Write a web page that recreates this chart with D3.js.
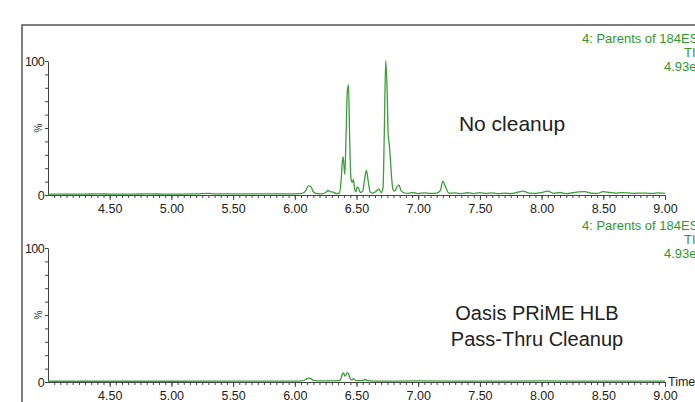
<!DOCTYPE html>
<html>
<head>
<meta charset="utf-8">
<script src="https://cdn.jsdelivr.net/npm/d3@7/dist/d3.min.js"></script>
<style>
  body { margin: 0; background: #fff; }
  svg { display: block; font-family: "Liberation Sans", Arial, sans-serif; }
</style>
</head>
<body>
<svg id="chart" width="695" height="402"></svg>
<script>
/** retention time range and tick labels **/
var timeRange = [4.0, 9.0];
var majorTicks = [4.5, 5.0, 5.5, 6.0, 6.5, 7.0, 7.5, 8.0, 8.5, 9.0];
var pctTicks = [0, 100];

/** header text of each trace **/
var traceInfo = ["4: Parents of 184ES+", "TIC", "4.93e7"];
var panelTitles = [["No cleanup"], ["Oasis PRiME HLB", "Pass-Thru Cleanup"]];

/** [time, %] **/
var noCleanup = [
  [4.00,0.3],[4.20,0.3],[4.40,0.4],[4.60,0.3],[4.80,0.4],[5.00,0.3],[5.20,0.4],[5.30,0.9],[5.35,0.5],
  [5.40,0.4],[5.60,0.4],[5.80,0.5],[6.00,0.5],[6.06,0.8],[6.09,3],[6.11,6.5],[6.13,6],[6.15,2],
  [6.18,0.6],[6.22,0.5],[6.25,1.5],[6.27,3],[6.29,2],[6.31,1.8],[6.34,0.6],[6.36,1],[6.375,10],
  [6.385,24],[6.392,28],[6.405,15],[6.415,42],[6.425,76],[6.435,82],[6.445,40],[6.455,12],[6.465,9],
  [6.475,11],[6.485,4],[6.495,2],[6.505,5.5],[6.515,5],[6.53,1.5],[6.55,2.5],[6.565,11],[6.58,18],
  [6.595,10],[6.61,2],[6.63,1],[6.66,2.5],[6.68,4],[6.70,1.5],[6.715,5],[6.725,45],[6.737,100],
  [6.748,78],[6.757,44],[6.765,38],[6.775,26],[6.785,12],[6.795,4],[6.81,2.5],[6.83,6],[6.845,7],
  [6.86,3],[6.88,1.5],[6.92,0.8],[6.96,1.5],[7.00,0.7],[7.05,1.2],[7.10,0.8],[7.15,1],[7.18,3],
  [7.20,10],[7.22,6],[7.25,1],[7.30,1.2],[7.35,0.6],[7.40,1.3],[7.45,0.7],[7.50,1.4],[7.55,0.8],
  [7.60,1.2],[7.65,0.6],[7.70,1],[7.75,0.7],[7.80,1.5],[7.85,2.5],[7.90,1],[7.95,0.8],[8.00,1.4],
  [8.05,2.5],[8.10,0.8],[8.15,1.5],[8.20,0.7],[8.25,1.3],[8.30,2],[8.35,2.2],[8.40,1],[8.45,0.8],
  [8.50,2.2],[8.55,1.5],[8.60,1],[8.65,1.4],[8.70,1.2],[8.75,0.9],[8.80,1.1],[8.85,1],[8.90,0.8],
  [8.95,1.2],[9.00,0.9]
];

var passThru = [
  [4.00,0.2],[5.00,0.2],[6.00,0.3],[6.06,0.5],[6.09,1.5],[6.11,2.5],[6.13,2.2],[6.15,0.8],[6.20,0.4],
  [6.30,0.5],[6.36,0.6],[6.375,2.5],[6.385,5.5],[6.395,6.5],[6.405,4],[6.415,5],[6.425,6.5],[6.435,6],
  [6.445,3],[6.455,1.5],[6.465,1.2],[6.475,2.2],[6.485,1.5],[6.50,0.6],[6.55,0.6],[6.57,1.5],[6.59,0.6],
  [6.65,0.3],[7.00,0.4],[7.50,0.3],[8.00,0.4],[8.50,0.3],[9.00,0.3]
];

var svg = d3.select("#chart");
var green = "#3a9e3a";

/** outer frame **/
svg.append("path")
    .attr("d", "M22,402 L22,25 L695,25")
    .attr("fill", "none")
    .attr("stroke", "#555")
    .attr("stroke-width", 1.5);

var x = d3.scaleLinear().domain(timeRange).range([48, 665]);
var minorTicks = d3.range(81, 181).map(function (i) { return i * 0.05; })
    .filter(function (t) { return t <= 9.0001; });

function drawPanel(data, yBase, titles, titleY, showTime) {
    var y = d3.scaleLinear().domain([0, 100]).range([yBase, yBase - 134]);
    var g = svg.append("g");

    /** minor x ticks **/
    g.append("g")
        .attr("transform", "translate(0," + yBase + ")")
        .call(d3.axisBottom(x).tickValues(minorTicks).tickSize(3).tickFormat(""))
        .call(function (a) { a.select(".domain").remove(); });

    /** major x ticks with labels **/
    var xa = g.append("g")
        .attr("transform", "translate(0," + yBase + ")")
        .call(d3.axisBottom(x).tickValues(majorTicks).tickSize(5).tickSizeOuter(0)
            .tickPadding(4).tickFormat(d3.format(".2f")));
    xa.select(".domain").attr("d", "M48,0.5H665.5");
    xa.selectAll("text").style("font-size", "12.5px").attr("fill", "#222");

    /** y axis **/
    g.append("g")
        .attr("transform", "translate(48,0)")
        .call(d3.axisLeft(y).tickValues(d3.range(10, 100, 10)).tickSize(3).tickFormat(""))
        .call(function (a) { a.select(".domain").remove(); });
    var ya = g.append("g")
        .attr("transform", "translate(48,0)")
        .call(d3.axisLeft(y).tickValues(pctTicks).tickSize(3).tickSizeOuter(0).tickPadding(1));
    ya.selectAll("text").style("font-size", "12.5px").attr("fill", "#222").attr("letter-spacing", "-0.6");
    svg.selectAll(".tick line").attr("stroke", "#444");
    svg.selectAll(".domain").attr("stroke", "#444");

    g.append("text")
        .attr("transform", "translate(42," + (yBase - 67) + ") rotate(-90)")
        .attr("text-anchor", "middle")
        .style("font-size", "10px")
        .attr("fill", "#333")
        .text("%");

    /** trace **/
    var line = d3.line()
        .x(function (d) { return x(d[0]); })
        .y(function (d) { return y(d[1]) - 0.5; })
        .curve(d3.curveMonotoneX);
    g.append("path")
        .datum(data)
        .attr("d", line)
        .attr("fill", "none")
        .attr("stroke", green)
        .attr("stroke-width", 1.3);

    /** header info top right **/
    var infoX = [582, 684, 664];
    traceInfo.forEach(function (s, i) {
        g.append("text")
            .attr("x", infoX[i])
            .attr("y", yBase - 152 + i * 14)
            .style("font-size", "13px")
            .attr("fill", "#2e9a2e")
            .text(s);
    });

    /** panel annotation **/
    titles.forEach(function (s, i) {
        g.append("text")
            .attr("x", titles.length > 1 ? 537 : 512)
            .attr("y", titleY + i * 26)
            .attr("text-anchor", "middle")
            .style("font-size", titles.length > 1 ? "20px" : "21px")
            .attr("fill", "#222")
            .text(s);
    });

    if (showTime) {
        g.append("text")
            .attr("x", 668)
            .attr("y", yBase + 4)
            .style("font-size", "12.5px")
            .attr("fill", "#222")
            .text("Time");
    }
}

drawPanel(noCleanup, 195, panelTitles[0], 131, false);
drawPanel(passThru, 382, panelTitles[1], 320, true);
</script>
</body>
</html>
